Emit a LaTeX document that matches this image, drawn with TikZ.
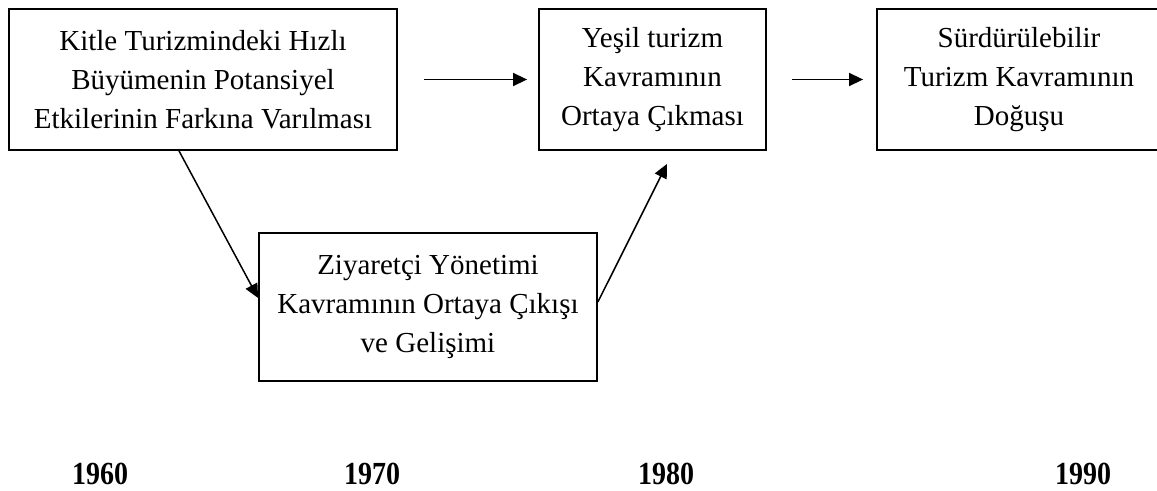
\documentclass[tikz,border=0pt]{standalone}
\usepackage{fontspec}
\setmainfont{Liberation Serif}
\usetikzlibrary{arrows.meta,shapes}
\tikzstyle{box} = [draw, line width=0.9pt, minimum height=70.5pt, inner sep=0pt, align=center, font=\fontsize{14.5}{19.5}\selectfont]
\tikzstyle{year} = [font=\bfseries\fontsize{14}{17}\selectfont, yscale=1.15, transform shape]
\tikzstyle{edge} = [draw, line width=0.75pt, -{Triangle[length=7pt,width=6.5pt]}]

\begin{document}
\begin{tikzpicture}[x=0.5pt,y=-0.5pt]
    % Fix the page
    \useasboundingbox (0,0) rectangle (1157,491);
    % First we draw the boxes
    \node[box, minimum width=194pt] (kitle) at (203,79.5) {Kitle Turizmindeki Hızlı\\Büyümenin Potansiyel\\Etkilerinin Farkına Varılması};
    \node[box, minimum width=113.5pt] (yesil) at (652.5,79.5) {Yeşil turizm\\Kavramının\\Ortaya Çıkması};
    \node[box, minimum width=142pt] (surdur) at (1019,79.5) {Sürdürülebilir\\Turizm Kavramının\\Doğuşu};
    \node[box, minimum width=169pt, minimum height=74pt] (ziyaret) at (428,307) {Ziyaretçi Yönetimi\\Kavramının Ortaya Çıkışı\\ve Gelişimi};

    % The years along the bottom
    \foreach \pos/\name in {{(100,474)/1960}, {(372,474)/1970}, {(666,474)/1980}, {(1083,474)/1990}}
        \node[year] (y\name) at \pos {\name};

    % Connect boxes with arrows
    \path[edge, shorten <=13pt, shorten >=5.5pt] (kitle) -- (yesil);
    \path[edge, shorten <=12.5pt, shorten >=6.5pt] (yesil) -- (surdur);
    \path[edge] ([xshift=-12pt]kitle.south) -- ([yshift=4.5pt]ziyaret.west);
    \path[edge, shorten >=7.3pt] ([yshift=2.5pt]ziyaret.east) -- ([xshift=10.5pt]yesil.south);
\end{tikzpicture}
\end{document}
